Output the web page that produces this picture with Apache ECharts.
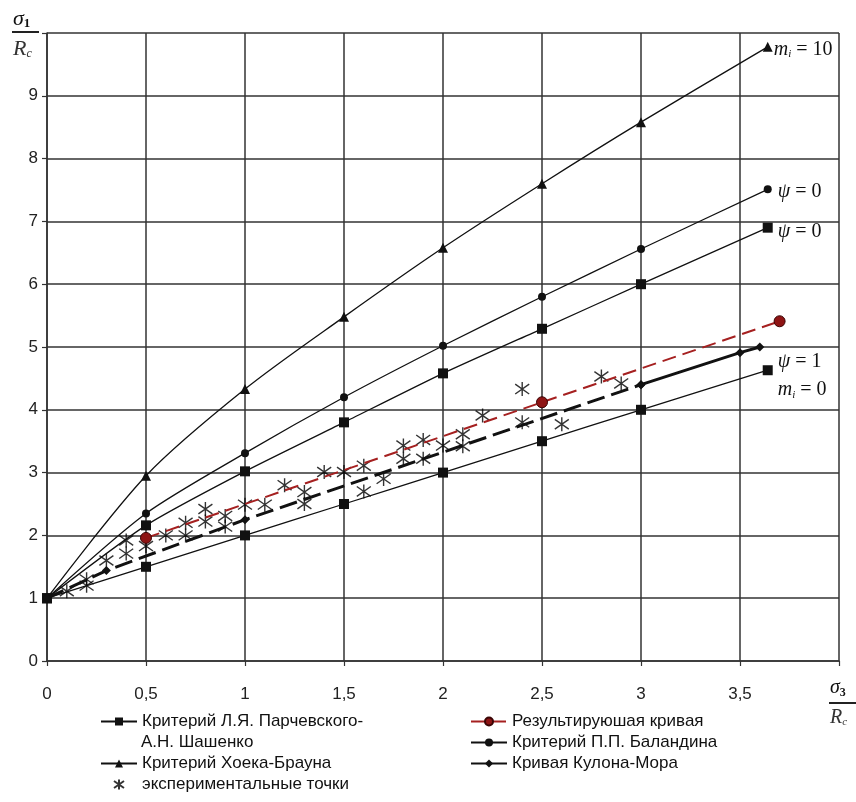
<!DOCTYPE html>
<html>
<head>
<meta charset="utf-8">
<script src="https://cdn.jsdelivr.net/npm/echarts@6/dist/echarts.min.js"></script>
<style>html,body{margin:0;padding:0;background:#fff}#c{width:856px;height:802px}</style>
</head>
<body>
<div id="c"></div>
<script>
// ---- data ----
const xTickLabels = ['0','0,5','1','1,5','2','2,5','3','3,5'];
const yTickLabels = ['0','1','2','3','4','5','6','7','8','9'];

const curveX = [0, 0.5, 1, 1.5, 2, 2.5, 3, 3.64];
const hoekY = [1, 2.95, 4.33, 5.48, 6.58, 7.6, 8.58, 9.78];
const balandinY = [1, 2.35, 3.31, 4.2, 5.02, 5.8, 6.56, 7.51];
const parchUpperY = [1, 2.16, 3.02, 3.8, 4.58, 5.29, 6.0, 6.9];
const parchLowerY = [1, 1.5, 2.0, 2.5, 3.0, 3.5, 4.0, 4.63];

const resultX = [0.5, 2.5, 3.7];
const resultY = [1.96, 4.12, 5.41];

const cmDashX = [0, 0.3, 1, 3];
const cmDashY = [1, 1.44, 2.25, 4.4];
const cmSolidX = [3, 3.5, 3.6];
const cmSolidY = [4.4, 4.91, 5.0];

const expX = [0.1,0.2,0.2,0.3,0.4,0.4,0.5,0.6,0.7,0.7,0.8,0.8,0.9,0.9,1.0,1.1,1.2,1.3,1.3,1.4,1.5,1.6,1.6,1.7,1.8,1.8,1.9,1.9,2.0,2.1,2.1,2.2,2.4,2.4,2.6,2.8,2.9];
const expY = [1.11,1.2,1.3,1.6,1.71,1.92,1.83,2.0,2.0,2.2,2.22,2.42,2.14,2.31,2.49,2.49,2.8,2.5,2.69,3.01,3.01,2.7,3.11,2.9,3.22,3.43,3.22,3.52,3.43,3.42,3.61,3.91,3.8,4.33,3.77,4.53,4.42];

const NAME_P = 'Критерий Л.Я. Парчевского-';
const NAME_P2 = 'А.Н. Шашенко';
const NAME_H = 'Критерий Хоека-Брауна';
const NAME_E = 'экспериментальные точки';
const NAME_R = 'Результируюшая кривая';
const NAME_B = 'Критерий П.П. Баландина';
const NAME_CM = 'Кривая Кулона-Мора';

// ---- helpers ----
const pairs = (xs, ys) => xs.map((x, i) => [x, ys[i]]);
const SANS = "'Liberation Sans Narrow','Arial Narrow','Liberation Sans',Arial,sans-serif";
const SERIF = "'Liberation Serif','Times New Roman',serif";
const richMath = {
  it: {fontFamily: SERIF, fontStyle: 'italic', fontSize: 20, color: '#111'},
  sub: {fontFamily: SERIF, fontStyle: 'italic', fontSize: 11, color: '#111', padding: [9, 0, 0, 0]},
  n: {fontFamily: SERIF, fontSize: 20, color: '#111'}
};
const star = 'path://M5,0L5,10M0,1.5L10,8.5M0,8.5L10,1.5';
const black = '#111';
const legendText = {fontSize: 17, fontFamily: SANS, color: '#111', lineHeight: 21};

const chart = echarts.init(document.getElementById('c'), null, {renderer: 'canvas'});
const option = {
  animation: false,
  backgroundColor: '#fff',
  grid: {left: 47, right: 17, top: 33, bottom: 141},
  xAxis: {
    type: 'value', min: 0, max: 4, interval: 0.5,
    axisLine: {onZero: false, lineStyle: {color: '#333', width: 1.5}},
    axisTick: {show: true, length: 5, lineStyle: {color: '#333', width: 1.2}},
    splitLine: {show: true, lineStyle: {color: '#333', width: 1.5}},
    axisLabel: {
      margin: 25, fontSize: 17, color: '#222', fontFamily: SANS,
      formatter: v => xTickLabels[Math.round(v / 0.5)] || ''
    }
  },
  yAxis: {
    type: 'value', min: 0, max: 10, interval: 1,
    axisLine: {show: true, onZero: false, lineStyle: {color: '#333', width: 1.5}},
    axisTick: {show: true, length: 5, lineStyle: {color: '#333', width: 1.2}},
    splitLine: {show: true, lineStyle: {color: '#333', width: 1.5}},
    axisLabel: {
      margin: 9, fontSize: 17, color: '#222', fontFamily: SANS,
      formatter: v => yTickLabels[Math.round(v)] || ''
    }
  },
  legend: [
    {left: 100, top: 711, padding: 0, itemWidth: 36, itemHeight: 10, itemGap: 0,
     textStyle: legendText, data: [NAME_P]},
    {left: 100, top: 753, padding: 0, height: 49, orient: 'vertical', itemWidth: 36, itemHeight: 10, itemGap: 0,
     textStyle: legendText, data: [NAME_H, NAME_E]},
    {left: 470, top: 711, padding: 0, orient: 'vertical', itemWidth: 36, itemHeight: 10, itemGap: 0,
     textStyle: legendText, data: [NAME_R, NAME_B, NAME_CM]}
  ],
  graphic: [
    {type: 'text', left: 141, top: 734, style: {text: NAME_P2, font: "17px " + SANS, fill: '#111'}},
    // sigma1 / Rc (y axis title)
    {type: 'text', left: 13, top: 8, style: {text: '{it|σ}{s|1}', rich: {it: {fontFamily: SERIF, fontStyle: 'italic', fontSize: 22, fill: '#111'}, s: {fontFamily: SERIF, fontSize: 13, fontWeight: 'bold', fill: '#111', padding: [9, 0, 0, 0]}}}},
    {type: 'line', shape: {x1: 12, y1: 32, x2: 39, y2: 32}, style: {stroke: '#222', lineWidth: 2}},
    {type: 'text', left: 13, top: 38, style: {text: '{it|R}{s|c}', rich: {it: {fontFamily: SERIF, fontStyle: 'italic', fontSize: 22, fill: '#333'}, s: {fontFamily: SERIF, fontStyle: 'italic', fontSize: 12, fill: '#333', padding: [10, 0, 0, 0]}}}},
    // sigma3 / Rc (x axis title)
    {type: 'text', left: 830, top: 678, style: {text: '{it|σ}{s|3}', rich: {it: {fontFamily: SERIF, fontStyle: 'italic', fontSize: 20, fill: '#111'}, s: {fontFamily: SERIF, fontSize: 12, fontWeight: 'bold', fill: '#111', padding: [9, 0, 0, 0]}}}},
    {type: 'line', shape: {x1: 829, y1: 703, x2: 856, y2: 703}, style: {stroke: '#222', lineWidth: 2}},
    {type: 'text', left: 830, top: 708, style: {text: '{it|R}{s|c}', rich: {it: {fontFamily: SERIF, fontStyle: 'italic', fontSize: 20, fill: '#333'}, s: {fontFamily: SERIF, fontStyle: 'italic', fontSize: 11, fill: '#333', padding: [9, 0, 0, 0]}}}}
  ],
  series: [
    {
      name: NAME_E, type: 'scatter', data: pairs(expX, expY),
      symbol: star, symbolSize: 14, z: 3,
      itemStyle: {color: 'rgba(0,0,0,0)', borderColor: '#000', borderWidth: 1.4}
    },
    {
      name: NAME_P, type: 'line', data: pairs(curveX, parchUpperY), smooth: 0.2, z: 4,
      symbol: 'rect', symbolSize: 10, itemStyle: {color: black},
      lineStyle: {color: black, width: 1.3},
      endLabel: {show: true, distance: 10, offset: [0, 4], formatter: '{it|ψ}{n| = 0}', rich: richMath}
    },
    {
      name: NAME_P, type: 'line', data: pairs(curveX, parchLowerY), smooth: 0.2, z: 4,
      symbol: 'rect', symbolSize: 10, itemStyle: {color: black},
      lineStyle: {color: black, width: 1.3},
      endLabel: {show: true, distance: 10, offset: [0, 6], lineHeight: 28,
                 formatter: '{it|ψ}{n| = 1}\n{it|m}{sub|i}{n| = 0}', rich: richMath}
    },
    {
      name: NAME_H, type: 'line', data: pairs(curveX, hoekY), smooth: 0.3, z: 4,
      symbol: 'triangle', symbolSize: 10, itemStyle: {color: black},
      lineStyle: {color: black, width: 1.3},
      endLabel: {show: true, distance: 6, offset: [0, 3], formatter: '{it|m}{sub|i}{n| = 10}', rich: richMath}
    },
    {
      name: NAME_B, type: 'line', data: pairs(curveX, balandinY), smooth: 0.25, z: 4,
      symbol: 'circle', symbolSize: 8, itemStyle: {color: black},
      lineStyle: {color: black, width: 1.3},
      endLabel: {show: true, distance: 10, offset: [0, 2], formatter: '{it|ψ}{n| = 0}', rich: richMath}
    },
    {
      name: NAME_R, type: 'line', data: pairs(resultX, resultY), z: 5,
      symbol: 'circle', symbolSize: 11,
      itemStyle: {color: '#8e1414', borderColor: '#3a0505', borderWidth: 1},
      lineStyle: {color: '#a52020', width: 2, type: [14, 7]}
    },
    {
      name: NAME_CM, type: 'line', data: pairs(cmSolidX, cmSolidY), z: 5,
      symbol: 'diamond', symbolSize: 9, itemStyle: {color: black},
      lineStyle: {color: black, width: 3}
    },
    {
      name: NAME_CM, type: 'line', data: pairs(cmDashX, cmDashY), z: 5,
      symbol: 'diamond', symbolSize: 9, itemStyle: {color: black},
      lineStyle: {color: black, width: 3, type: [18, 7]}
    }
  ]
};
chart.setOption(option);
</script>
</body>
</html>
